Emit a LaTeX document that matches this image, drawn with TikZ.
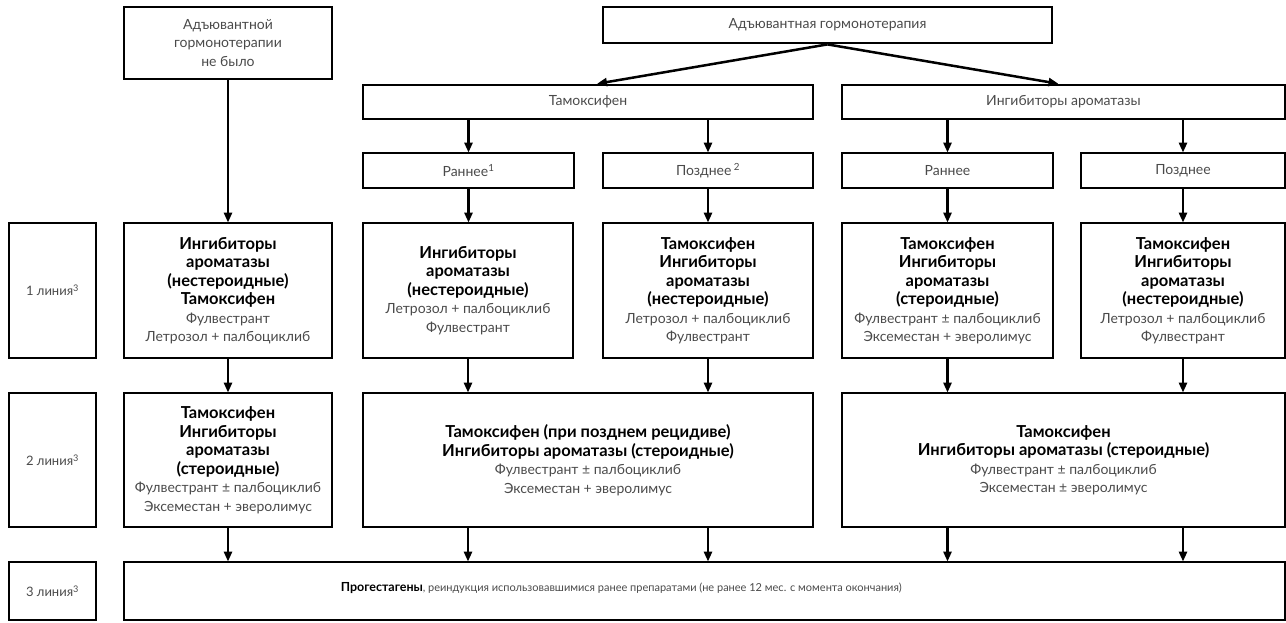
\documentclass[tikz,border=0pt]{standalone}
\usepackage{fontspec}
\setmainfont{Lato}
\usetikzlibrary{arrows.meta}
\definecolor{txtgray}{HTML}{4A4A4A}
\newcommand\hb[1]{{\fontsize{16.5}{18}\selectfont\bfseries\color{black}#1}}
\tikzset{
  box/.style={draw, line width=2.8pt, inner sep=0pt, align=center, text=txtgray,
    font=\fontsize{14}{18.5}\selectfont},
  labbox/.style={box, font=\fontsize{13}{18}\selectfont},
  arr/.style={line width=2.5pt, -{Triangle[length=10pt,width=8pt]}, shorten >=-1pt}
}
\begin{document}
\begin{tikzpicture}[x=1pt,y=-1pt]
\useasboundingbox (0,0) rectangle (1286,623);
% top level
\node[box, minimum width=449pt, minimum height=36pt] (top) at (827.5,25) {Адъювантная гормонотерапия};
\node[box, minimum width=208pt, minimum height=72pt] (none) at (228,43) {Адъювантной\\гормонотерапии\\не было};
\node[box, minimum width=450pt, minimum height=34pt] (tam) at (588,102) {Тамоксифен};
\node[box, minimum width=443pt, minimum height=34pt] (ai) at (1063.5,102) {Ингибиторы ароматазы};
\node[box, minimum width=211pt, minimum height=35pt] (e1) at (468.5,170.5) {Раннее\textsuperscript{1}};
\node[box, minimum width=210pt, minimum height=35pt] (l1) at (708,170.5) {Позднее\,\textsuperscript{2}};
\node[box, minimum width=211pt, minimum height=35pt] (e2) at (947.5,170.5) {Раннее};
\node[box, minimum width=204pt, minimum height=35pt] (l2) at (1183,170.5) {Позднее};
% row 1
\node[labbox, minimum width=87pt, minimum height=135pt] (lab1) at (52.5,290.5) {1 линия\textsuperscript{3}};
\node[box, minimum width=208pt, minimum height=135pt] (r1a) at (228,290.5)
  {\hb{Ингибиторы}\\\hb{ароматазы}\\\hb{(нестероидные)}\\\hb{Тамоксифен}\\Фулвестрант\\Летрозол + палбоциклиб};
\node[box, minimum width=210pt, minimum height=135pt] (r1b) at (468,290.5)
  {\hb{Ингибиторы}\\\hb{ароматазы}\\\hb{(нестероидные)}\\Летрозол + палбоциклиб\\Фулвестрант};
\node[box, minimum width=210pt, minimum height=135pt] (r1c) at (708,290.5)
  {\hb{Тамоксифен}\\\hb{Ингибиторы}\\\hb{ароматазы}\\\hb{(нестероидные)}\\Летрозол + палбоциклиб\\Фулвестрант};
\node[box, minimum width=211pt, minimum height=135pt] (r1d) at (947.5,290.5)
  {\hb{Тамоксифен}\\\hb{Ингибиторы}\\\hb{ароматазы}\\\hb{(стероидные)}\\Фулвестрант ± палбоциклиб\\Эксеместан + эверолимус};
\node[box, minimum width=204pt, minimum height=135pt] (r1e) at (1183,290.5)
  {\hb{Тамоксифен}\\\hb{Ингибиторы}\\\hb{ароматазы}\\\hb{(нестероидные)}\\Летрозол + палбоциклиб\\Фулвестрант};
% row 2
\node[labbox, minimum width=87pt, minimum height=134pt] (lab2) at (52.5,460) {2 линия\textsuperscript{3}};
\node[box, minimum width=208pt, minimum height=134pt] (r2a) at (228,460)
  {\hb{Тамоксифен}\\\hb{Ингибиторы}\\\hb{ароматазы}\\\hb{(стероидные)}\\Фулвестрант ± палбоциклиб\\Эксеместан + эверолимус};
\node[box, minimum width=450pt, minimum height=134pt] (r2b) at (588,460)
  {\hb{Тамоксифен (при позднем рецидиве)}\\\hb{Ингибиторы ароматазы (стероидные)}\\Фулвестрант ± палбоциклиб\\Эксеместан + эверолимус};
\node[box, minimum width=443pt, minimum height=134pt] (r2c) at (1063.5,460)
  {\hb{Тамоксифен}\\\hb{Ингибиторы ароматазы (стероидные)}\\Фулвестрант ± палбоциклиб\\Эксеместан ± эверолимус};
% row 3
\node[labbox, minimum width=87pt, minimum height=58pt] (lab3) at (52.5,591) {3 линия\textsuperscript{3}};
\node[box, minimum width=1161pt, minimum height=58pt] (r3) at (704.5,591) {};
\node[anchor=west, inner sep=0pt, text=txtgray, font=\fontsize{11}{16}\selectfont] (r3t) at ([xshift=218pt,yshift=3pt]r3.west)
  {{\fontsize{12.5}{16}\selectfont\bfseries\color{black}Прогестагены}, реиндукция использовавшимися ранее препаратами (не ранее 12 мес. с момента окончания)};
% connectors
\draw[arr] (top.south) -- ([xshift=10pt]tam.north);
\draw[arr] (top.south) -- ([xshift=-6pt]ai.north);
\draw[arr] (tam.south -| e1.north) -- (e1.north);
\draw[arr] (tam.south -| l1.north) -- (l1.north);
\draw[arr] (ai.south -| e2.north) -- (e2.north);
\draw[arr] (ai.south -| l2.north) -- (l2.north);
\draw[arr] (none.south) -- (r1a.north);
\draw[arr] (e1.south) -- (e1.south |- r1b.north);
\draw[arr] (l1.south) -- (l1.south |- r1c.north);
\draw[arr] (e2.south) -- (e2.south |- r1d.north);
\draw[arr] (l2.south) -- (l2.south |- r1e.north);
\draw[arr] (r1a.south) -- (r2a.north);
\draw[arr] (r1b.south) -- (r1b.south |- r2b.north);
\draw[arr] (r1c.south) -- (r1c.south |- r2b.north);
\draw[arr] (r1d.south) -- (r1d.south |- r2c.north);
\draw[arr] (r1e.south) -- (r1e.south |- r2c.north);
\draw[arr] (r2a.south) -- (r2a.south |- r3.north);
\draw[arr] (r2b.south -| r1b.south) -- (r3.north -| r1b.south);
\draw[arr] (r2b.south -| r1c.south) -- (r3.north -| r1c.south);
\draw[arr] (r2c.south -| r1d.south) -- (r3.north -| r1d.south);
\draw[arr] (r2c.south -| r1e.south) -- (r3.north -| r1e.south);
\end{tikzpicture}
\end{document}
